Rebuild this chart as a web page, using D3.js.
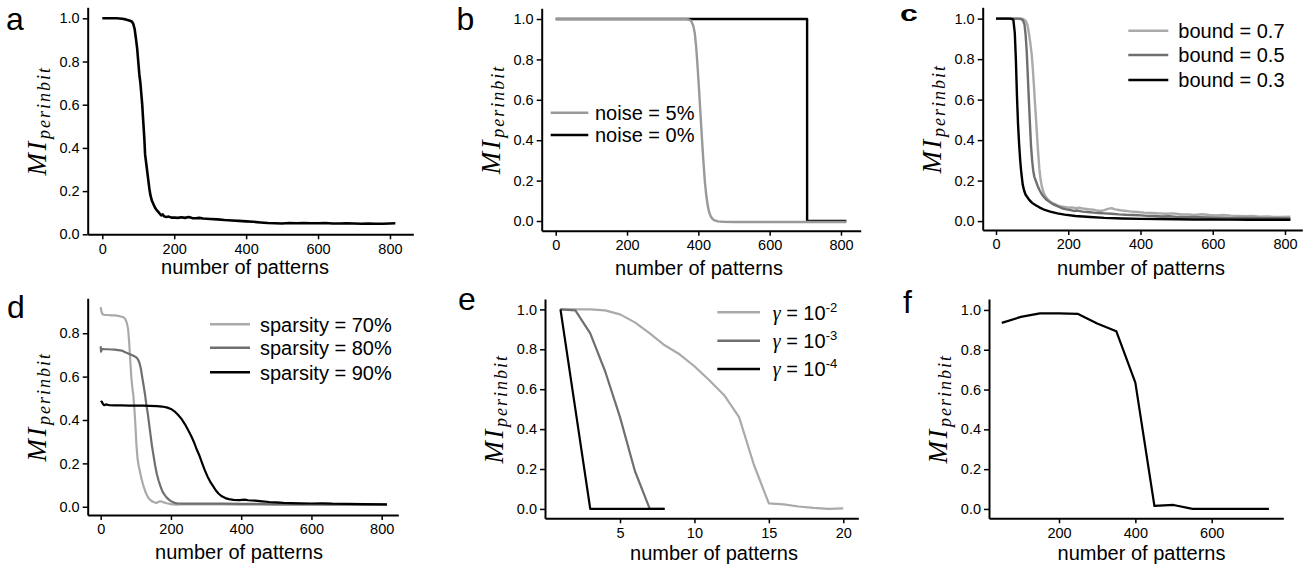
<!DOCTYPE html>
<html>
<head>
<meta charset="utf-8">
<script src="https://cdn.jsdelivr.net/npm/d3@7"></script>
<style>
  body { margin: 0; background: #fff; }
  svg text { font-family: "Liberation Sans", Arial, Helvetica, sans-serif; fill: #000; }
  .tick text { font-size: 14.5px; }
  .domain { stroke: #000; stroke-width: 2; }
  .tick line { stroke: #000; stroke-width: 1.5; }
  .curve { fill: none; stroke-linejoin: round; }
</style>
</head>
<body>
<svg id="fig" width="1310" height="571"></svg>
<script>
// ---- data ----
const xTicks800 = [0, 200, 400, 600, 800];
const yTicks10 = [0, 0.2, 0.4, 0.6, 0.8, 1.0];
const yTicks08 = [0, 0.2, 0.4, 0.6, 0.8];
const xTicksE = [5, 10, 15, 20];
const xTicksF = [200, 400, 600];

// a
const seriesA = [[0,1],[20,1],[40,1],[55,0.998],[65,0.995],[75,0.99],[82,0.985],[86,0.975],[90,0.95],[94,0.9],[97,0.86],[100,0.8],[103,0.74],[106,0.7],[108,0.66],[111,0.6],[114,0.52],[117,0.44],[119,0.37],[122,0.33],[125,0.29],[128,0.25],[131,0.21],[134,0.18],[138,0.155],[142,0.14],[146,0.125],[150,0.115],[155,0.105],[160,0.095],[164,0.088],[168,0.092],[172,0.083],[178,0.08],[185,0.082],[192,0.077],[200,0.078],[210,0.076],[220,0.079],[230,0.076],[240,0.08],[250,0.075],[260,0.074],[270,0.076],[280,0.073],[300,0.071],[320,0.069],[340,0.066],[360,0.064],[380,0.062],[400,0.06],[420,0.058],[440,0.055],[460,0.052],[480,0.051],[500,0.05],[520,0.052],[540,0.051],[560,0.052],[580,0.051],[600,0.051],[620,0.052],[640,0.05],[660,0.05],[680,0.051],[700,0.05],[720,0.049],[740,0.05],[760,0.049],[780,0.049],[800,0.05],[815,0.051]];

// b
const noise5 = [[0,1],[100,1],[200,1],[300,1],[360,1],[372,0.998],[380,0.99],[386,0.965],[390,0.93],[394,0.86],[398,0.76],[402,0.65],[406,0.53],[410,0.41],[414,0.3],[418,0.2],[422,0.13],[426,0.08],[430,0.045],[435,0.022],[440,0.01],[446,0.003],[455,-0.002],[470,-0.004],[500,-0.005],[600,-0.005],[700,-0.005],[815,-0.005]];
const noise0 = [[0,1],[705,1],[705,0],[815,0]];

// c
const bound07 = [[0,1],[20,1],[40,1],[60,1],[75,0.998],[82,0.99],[87,0.97],[91,0.93],[95,0.88],[99,0.82],[102,0.75],[105,0.67],[108,0.58],[111,0.5],[114,0.41],[117,0.33],[120,0.26],[123,0.21],[127,0.17],[131,0.145],[136,0.125],[142,0.11],[148,0.1],[155,0.09],[162,0.085],[170,0.078],[180,0.072],[190,0.07],[200,0.066],[210,0.068],[220,0.064],[230,0.066],[240,0.062],[250,0.06],[260,0.058],[270,0.056],[280,0.052],[290,0.05],[300,0.054],[310,0.06],[320,0.064],[330,0.058],[340,0.055],[350,0.052],[370,0.048],[390,0.045],[410,0.042],[430,0.04],[450,0.038],[470,0.036],[490,0.038],[510,0.034],[530,0.033],[550,0.03],[570,0.034],[590,0.03],[610,0.028],[630,0.03],[650,0.027],[670,0.026],[690,0.024],[710,0.025],[730,0.022],[750,0.023],[770,0.021],[790,0.02],[815,0.022]];
const bound05 = [[0,1],[20,1],[40,1],[60,1],[70,0.998],[75,0.99],[79,0.97],[82,0.92],[85,0.84],[88,0.72],[91,0.6],[94,0.48],[97,0.37],[100,0.3],[103,0.25],[106,0.22],[110,0.2],[115,0.175],[120,0.155],[126,0.135],[132,0.12],[140,0.105],[148,0.095],[156,0.085],[165,0.078],[175,0.07],[185,0.062],[195,0.058],[205,0.055],[215,0.05],[225,0.052],[240,0.047],[255,0.045],[270,0.042],[285,0.04],[300,0.038],[320,0.036],[340,0.033],[360,0.031],[380,0.03],[400,0.028],[420,0.026],[440,0.025],[460,0.023],[480,0.024],[500,0.021],[530,0.02],[560,0.019],[590,0.018],[620,0.017],[650,0.016],[680,0.016],[710,0.015],[740,0.014],[770,0.014],[815,0.013]];
const bound03 = [[0,1],[20,1],[40,1],[48,0.995],[52,0.93],[55,0.8],[58,0.62],[61,0.48],[64,0.38],[67,0.3],[70,0.24],[74,0.18],[78,0.15],[82,0.13],[86,0.12],[92,0.105],[100,0.09],[110,0.078],[120,0.068],[135,0.055],[150,0.047],[170,0.038],[190,0.032],[220,0.025],[260,0.02],[300,0.016],[350,0.013],[400,0.011],[450,0.01],[500,0.009],[550,0.008],[600,0.008],[650,0.007],[700,0.007],[750,0.007],[815,0.007]];

// d
const sparsity70 = [[0,0.92],[2,0.9],[5,0.888],[10,0.885],[20,0.884],[30,0.882],[40,0.882],[50,0.88],[60,0.876],[66,0.872],[70,0.865],[74,0.85],[78,0.82],[81,0.76],[84,0.68],[87,0.6],[90,0.55],[93,0.515],[96,0.45],[99,0.37],[102,0.28],[105,0.22],[108,0.19],[112,0.16],[116,0.13],[121,0.1],[126,0.075],[131,0.055],[136,0.04],[142,0.03],[150,0.022],[159,0.017],[165,0.024],[172,0.025],[180,0.02],[188,0.016],[200,0.012],[215,0.01],[240,0.012],[270,0.011],[300,0.012],[350,0.011],[400,0.01],[450,0.01],[500,0.009],[550,0.009],[600,0.008],[650,0.008],[700,0.008],[750,0.008],[815,0.008]];
const sparsity80 = [[0,0.74],[1,0.715],[3,0.728],[10,0.727],[20,0.726],[30,0.725],[40,0.724],[50,0.722],[60,0.72],[70,0.712],[80,0.705],[90,0.698],[100,0.69],[106,0.68],[110,0.665],[114,0.64],[118,0.6],[122,0.56],[126,0.52],[130,0.47],[134,0.43],[138,0.38],[142,0.33],[146,0.28],[150,0.24],[155,0.19],[160,0.15],[165,0.12],[170,0.095],[176,0.07],[182,0.055],[188,0.042],[195,0.032],[202,0.024],[210,0.018],[220,0.015],[235,0.014],[250,0.015],[270,0.014],[300,0.015],[350,0.014],[400,0.013],[450,0.013],[500,0.012],[550,0.012],[600,0.012],[650,0.011],[700,0.011],[750,0.01],[815,0.01]];
const sparsity90 = [[0,0.482],[3,0.485],[6,0.475],[10,0.468],[15,0.472],[25,0.468],[40,0.467],[60,0.467],[80,0.466],[100,0.466],[120,0.466],[140,0.465],[160,0.464],[175,0.462],[190,0.457],[200,0.451],[210,0.44],[220,0.424],[230,0.405],[240,0.38],[250,0.35],[258,0.325],[265,0.3],[272,0.27],[280,0.24],[288,0.205],[296,0.17],[304,0.14],[312,0.115],[320,0.095],[328,0.075],[336,0.06],[345,0.048],[355,0.04],[365,0.035],[378,0.032],[395,0.031],[410,0.033],[420,0.03],[440,0.028],[460,0.025],[480,0.022],[500,0.02],[520,0.018],[540,0.017],[570,0.016],[600,0.015],[630,0.016],[660,0.014],[700,0.013],[750,0.012],[815,0.011]];

// e  (x = 1, 2, 3, ...)
const patternsE = [1,2,3,4,5,6,7,8,9,10,11,12,13,14,15,16,17,18,19,20];
const gamma2 = [1,1,1,0.995,0.975,0.935,0.88,0.82,0.775,0.715,0.645,0.57,0.46,0.22,0.028,0.023,0.012,0.005,0.0,0.003];
const gamma3 = [1,0.995,0.88,0.69,0.46,0.19,0,0];
const gamma4 = [1,0.5,0,0,0,0,0,0];

// f
const patternsF = [50,100,150,200,250,300,350,400,450,500,550,600,650,700,750];
const miF = [0.935,0.965,0.983,0.983,0.98,0.932,0.893,0.635,0.015,0.02,0,0,0,0,0];

const zipE = ys => ys.map((v, i) => [patternsE[i], v]);
const zipF = ys => ys.map((v, i) => [patternsF[i], v]);

const LIGHT = '#aaaaaa', MID = '#6f6f6f', DARK = '#000000';

const panels = [
  { label: 'a', lab: [6, 29.5], xr: [87.7, 413.3], xd: [-40.6, 864.9], yr: [234.3, 7.3], yd: [0, 1.051],
    xt: xTicks800, yt: yTicks10, title: [245, 273.5],
    series: [{ d: seriesA, c: DARK, w: 2.6 }] },
  { label: 'b', lab: [456.5, 29.5], xr: [541.7, 860.7], xd: [-39.3, 855.3], yr: [230.7, 8.3], yd: [-0.048, 1.053],
    xt: xTicks800, yt: yTicks10, title: [699, 275],
    series: [{ d: noise0, c: DARK, w: 2.4 }, { d: noise5, c: '#999999', w: 2.4 }],
    legend: { x1: 550.7, x2: 588.3, tx: 595, ys: [112.7, 135], items: [['noise = 5%', '#999999'], ['noise = 0%', DARK]] } },
  { label: 'c', lab: [900, 20.5], squash: true, xr: [982.7, 1302.3], xd: [-36.8, 847.9], yr: [230, 7.3], yd: [-0.044, 1.056],
    xt: xTicks800, yt: yTicks10, title: [1141, 275],
    series: [{ d: bound07, c: LIGHT, w: 2.4 }, { d: bound05, c: MID, w: 2.4 }, { d: bound03, c: DARK, w: 2.4 }],
    legend: { x1: 1128.3, x2: 1168.3, tx: 1178.3, ys: [30.7, 55, 80], items: [['bound = 0.7', LIGHT], ['bound = 0.5', MID], ['bound = 0.3', DARK]] } },
  { label: 'd', lab: [7, 318.3], xr: [87.7, 398.3], xd: [-37, 847.3], yr: [515, 298.3], yd: [-0.038, 0.961],
    xt: xTicks800, yt: yTicks08, title: [239, 558.5],
    series: [{ d: sparsity70, c: LIGHT, w: 2.2 }, { d: sparsity80, c: MID, w: 2.2 }, { d: sparsity90, c: DARK, w: 2.2 }],
    legend: { x1: 210, x2: 250, tx: 260, ys: [324.3, 347.7, 372.3], items: [['sparsity = 70%', LIGHT], ['sparsity = 80%', MID], ['sparsity = 90%', DARK]] } },
  { label: 'e', lab: [458, 310], xr: [545, 858.3], xd: [-0.04, 21.01], yr: [518.3, 299], yd: [-0.047, 1.052],
    xt: xTicksE, yt: yTicks10, title: [714, 560],
    series: [{ d: zipE(gamma2), c: LIGHT, w: 2.2 }, { d: zipE(gamma3), c: MID, w: 2.2 }, { d: zipE(gamma4), c: DARK, w: 2.2 }],
    legend: { x1: 717.3, x2: 760, tx: 772.7, ys: [312.3, 340.7, 369], gamma: true, items: [['-2', LIGHT], ['-3', MID], ['-4', DARK]] } },
  { label: 'f', lab: [903, 313.3], xr: [989, 1283.3], xd: [16.6, 787.6], yr: [518.3, 299], yd: [-0.047, 1.055],
    xt: xTicksF, yt: yTicks10, title: [1141.5, 560],
    series: [{ d: zipF(miF), c: DARK, w: 2.2 }] }
];

const svg = d3.select('#fig');

panels.forEach(p => {
  const g = svg.append('g');
  const x = d3.scaleLinear().domain(p.xd).range(p.xr);
  const y = d3.scaleLinear().domain(p.yd).range(p.yr);

  // curves
  const line = d3.line().x(d => x(d[0])).y(d => y(d[1]));
  g.selectAll('path.curve').data(p.series).join('path')
    .attr('class', 'curve')
    .attr('stroke', s => s.c)
    .attr('stroke-width', s => s.w)
    .attr('d', s => line(s.d));

  // axes
  g.append('g').attr('transform', `translate(0,${p.yr[0]})`)
    .call(d3.axisBottom(x).tickValues(p.xt).tickFormat(d3.format('d')).tickSize(5).tickSizeOuter(0).tickPadding(4));
  g.append('g').attr('transform', `translate(${p.xr[0]},0)`)
    .call(d3.axisLeft(y).tickValues(p.yt).tickFormat(d3.format('.1f')).tickSize(5).tickSizeOuter(0).tickPadding(3));
  g.selectAll('.tick text').attr('fill', '#000');

  // x title
  g.append('text').attr('x', p.title[0]).attr('y', p.title[1])
    .attr('text-anchor', 'middle').style('font-size', '20px').text('number of patterns');

  // y title  MI_perinbit
  const cy = (p.yr[0] + p.yr[1]) / 2;
  const yl = g.append('text')
    .attr('transform', `translate(${p.xr[0] - 42},${cy}) rotate(-90)`)
    .attr('text-anchor', 'middle')
    .style('font-family', '"Liberation Serif", "Times New Roman", serif')
    .style('font-style', 'italic');
  yl.append('tspan').style('font-size', '27px').attr('letter-spacing', 2.5).text('MI');
  yl.append('tspan').style('font-size', '18px').attr('letter-spacing', 2).attr('dy', 4).text('perinbit');

  // panel letter
  const lt = g.append('text').attr('x', p.lab[0]).attr('y', p.lab[1])
    .style('font-size', '32px').text(p.label);
  if (p.squash) lt.attr('transform', `translate(0,${p.lab[1]}) scale(1,0.68) translate(0,${-p.lab[1]})`)
    .style('font-weight', 'bold');

  // legend
  if (p.legend) {
    const L = p.legend;
    L.items.forEach((it, i) => {
      g.append('line').attr('x1', L.x1).attr('x2', L.x2).attr('y1', L.ys[i]).attr('y2', L.ys[i])
        .attr('stroke', it[1]).attr('stroke-width', 2.6);
      const t = g.append('text').attr('x', L.tx).attr('y', L.ys[i]).attr('dy', '0.36em').style('font-size', '20px');
      if (L.gamma) {
        t.append('tspan').style('font-family', '"Liberation Serif", serif').style('font-style', 'italic').text('\u03b3');
        t.append('tspan').text(' = 10');
        t.append('tspan').style('font-size', '13px').attr('dy', -8).text(it[0]);
      } else {
        t.text(it[0]);
      }
    });
  }
});
</script>
</body>
</html>
